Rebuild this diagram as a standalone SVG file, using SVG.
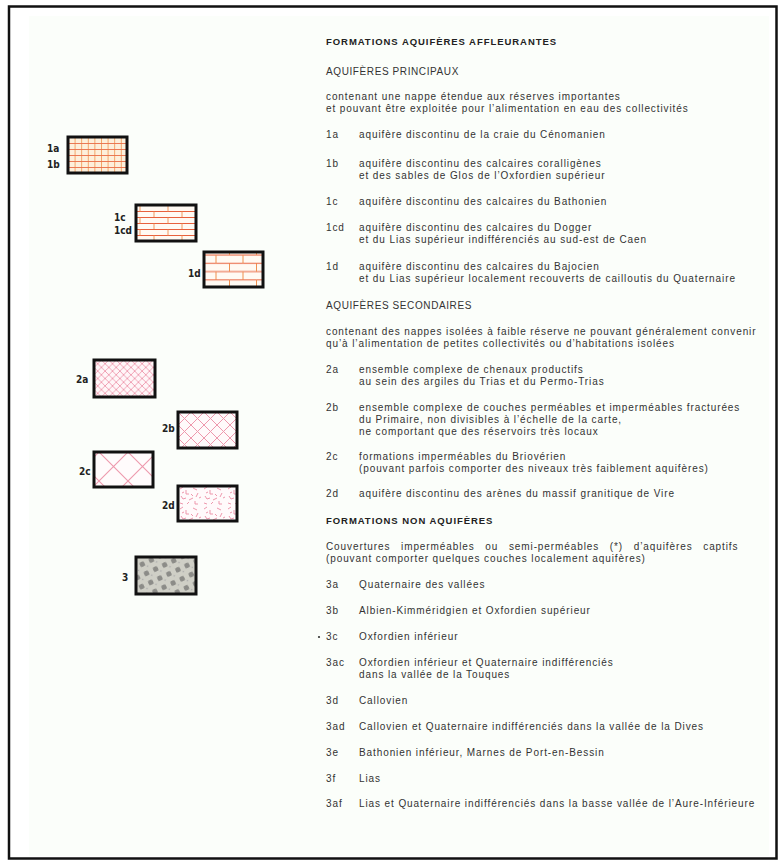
<svg xmlns="http://www.w3.org/2000/svg" width="784" height="866" viewBox="0 0 784 866">
<style>
.t{font-family:"Liberation Sans",Arial,sans-serif;font-size:10px;fill:#333;letter-spacing:0.9px}
.u{font-family:"Liberation Sans",Arial,sans-serif;font-size:10px;fill:#333;letter-spacing:0.6px}
.h{font-family:"Liberation Sans",Arial,sans-serif;font-size:9.5px;font-weight:bold;fill:#222;letter-spacing:0.95px}
.lb{font-family:"DejaVu Sans Condensed","DejaVu Sans",sans-serif;font-size:10px;font-weight:bold;fill:#222}
.box{stroke:#111;stroke-width:3}
</style>
<defs>
<pattern id="p1a" patternUnits="userSpaceOnUse" x="68" y="137" width="6.6" height="6">
<rect width="6.6" height="6" fill="#fdf0dc"/>
<line x1="0.5" y1="0" x2="0.5" y2="6" stroke="#f29a58" stroke-width="0.9"/>
<line x1="0" y1="0.5" x2="6.6" y2="0.5" stroke="#e9704c" stroke-width="0.9"/>
</pattern>
<pattern id="p1c" patternUnits="userSpaceOnUse" x="136" y="205" width="28" height="12">
<rect width="28" height="12" fill="#fffaf3"/>
<line x1="0" y1="0.5" x2="28" y2="0.5" stroke="#e8603c" stroke-width="1"/>
<line x1="0" y1="6.5" x2="28" y2="6.5" stroke="#e8603c" stroke-width="1"/>
<line x1="4" y1="0.5" x2="4" y2="6.5" stroke="#ef9050" stroke-width="0.9"/>
<line x1="18" y1="6.5" x2="18" y2="12.5" stroke="#ef9050" stroke-width="0.9"/>
</pattern>
<pattern id="p1d" patternUnits="userSpaceOnUse" x="204" y="252" width="27" height="16.6">
<rect width="27" height="16.6" fill="#fffaf3"/>
<line x1="0" y1="3" x2="27" y2="3" stroke="#e8603c" stroke-width="1"/>
<line x1="0" y1="11.3" x2="27" y2="11.3" stroke="#e8603c" stroke-width="1"/>
<line x1="12" y1="3" x2="12" y2="11.3" stroke="#ef9050" stroke-width="1"/>
<line x1="25.5" y1="11.3" x2="25.5" y2="19.6" stroke="#ef9050" stroke-width="1"/>
<line x1="25.5" y1="-5.3" x2="25.5" y2="3" stroke="#ef9050" stroke-width="1"/>
</pattern>
<pattern id="p2a" patternUnits="userSpaceOnUse" x="94" y="360" width="7.4" height="7.4">
<rect width="7.4" height="7.4" fill="#fff6f8"/>
<path d="M0,0L7.4,7.4M7.4,0L0,7.4" stroke="#ec8ea6" stroke-width="0.8"/>
</pattern>
<pattern id="p2b" patternUnits="userSpaceOnUse" x="178" y="412" width="13" height="13">
<rect width="13" height="13" fill="#fffafb"/>
<path d="M0,0L13,13M13,0L0,13" stroke="#ee98ad" stroke-width="1"/>
</pattern>
<pattern id="p2c" patternUnits="userSpaceOnUse" x="99" y="452" width="29" height="29">
<rect width="29" height="29" fill="#fffbfc"/>
<path d="M0,0L29,29M29,0L0,29" stroke="#ee98ad" stroke-width="1.1"/>
</pattern>
<pattern id="p2d" patternUnits="userSpaceOnUse" x="178" y="486" width="24" height="20">
<rect width="24" height="20" fill="#fffafb"/>
<g stroke="#ee98ad" stroke-width="1" fill="none">
<path d="M2,3l3,-2M8,4l0,4l3,0M15,2l4,2M20,7l-2,4M3,10l2,3l3,-1M11,14l4,-2M17,15l0,3l3,0M2,17l3,1M9,18l2,-2M21,12l2,-1M13,8l2,2M6,6l-2,1"/>
</g>
</pattern>
<pattern id="p3" patternUnits="userSpaceOnUse" x="136" y="557" width="10" height="10" patternTransform="rotate(-25)">
<rect width="10" height="10" fill="#cfcfc6"/>
<rect x="2" y="2" width="5" height="5" rx="1.5" fill="#8c8c88"/>
<circle cx="8.5" cy="8.5" r="0.8" fill="#aaa"/>
</pattern>
</defs>
<rect width="784" height="866" fill="#ffffff"/>
<rect x="29" y="16" width="740" height="840" fill="#fbfefa"/>
<rect x="9" y="6.5" width="767.5" height="852" fill="none" stroke="#111" stroke-width="2.5"/>

<g id="swatches">
<g id="sw-1a"><rect class="box" x="68" y="137" width="59" height="36" fill="url(#p1a)"/><text class="lb" x="47" y="152">1a</text><text class="lb" x="47" y="168">1b</text></g>
<g id="sw-1c"><rect class="box" x="136" y="205" width="60" height="36" fill="url(#p1c)"/><text class="lb" x="114" y="221">1c</text><text class="lb" x="114" y="234">1cd</text></g>
<g id="sw-1d"><rect class="box" x="204" y="252" width="59" height="35" fill="url(#p1d)"/><text class="lb" x="188" y="277">1d</text></g>
<g id="sw-2a"><rect class="box" x="94" y="360" width="61" height="37" fill="url(#p2a)"/><text class="lb" x="76" y="383">2a</text></g>
<g id="sw-2b"><rect class="box" x="178" y="412" width="59" height="36" fill="url(#p2b)"/><text class="lb" x="162" y="432">2b</text></g>
<g id="sw-2c"><rect class="box" x="94" y="452" width="59" height="35" fill="url(#p2c)"/><text class="lb" x="79" y="475">2c</text></g>
<g id="sw-2d"><rect class="box" x="178" y="486" width="59" height="35" fill="url(#p2d)"/><text class="lb" x="162" y="509">2d</text></g>
<g id="sw-3"><rect class="box" x="136" y="557" width="60" height="37" fill="url(#p3)"/><text class="lb" x="122" y="581">3</text></g>
</g>

<g id="legend">
<text class="h" x="326" y="45">FORMATIONS AQUIFÈRES AFFLEURANTES</text>
<text class="u" x="326" y="75">AQUIFÈRES PRINCIPAUX</text>
<text class="t" x="326" y="100">contenant une nappe étendue aux réserves importantes</text>
<text class="t" x="326" y="112">et pouvant être exploitée pour l’alimentation en eau des collectivités</text>
<g id="i1a"><text class="t" x="326" y="138">1a</text><text class="t" x="359" y="138">aquifère discontinu de la craie du Cénomanien</text></g>
<g id="i1b"><text class="t" x="326" y="167">1b</text><text class="t" x="359" y="167">aquifère discontinu des calcaires coralligènes</text><text class="t" x="359" y="179">et des sables de Glos de l’Oxfordien supérieur</text></g>
<g id="i1c"><text class="t" x="326" y="205">1c</text><text class="t" x="359" y="205">aquifère discontinu des calcaires du Bathonien</text></g>
<g id="i1cd"><text class="t" x="326" y="231">1cd</text><text class="t" x="359" y="231">aquifère discontinu des calcaires du Dogger</text><text class="t" x="359" y="243">et du Lias supérieur indifférenciés au sud-est de Caen</text></g>
<g id="i1d"><text class="t" x="326" y="270">1d</text><text class="t" x="359" y="270">aquifère discontinu des calcaires du Bajocien</text><text class="t" x="359" y="282">et du Lias supérieur localement recouverts de cailloutis du Quaternaire</text></g>
<text class="u" x="326" y="309">AQUIFÈRES SECONDAIRES</text>
<text class="t" x="326" y="335">contenant des nappes isolées à faible réserve ne pouvant généralement convenir</text>
<text class="t" x="326" y="347">qu’à l’alimentation de petites collectivités ou d’habitations isolées</text>
<g id="i2a"><text class="t" x="326" y="373">2a</text><text class="t" x="359" y="373">ensemble complexe de chenaux productifs</text><text class="t" x="359" y="385">au sein des argiles du Trias et du Permo-Trias</text></g>
<g id="i2b"><text class="t" x="326" y="411">2b</text><text class="t" x="359" y="411">ensemble complexe de couches perméables et imperméables fracturées</text><text class="t" x="359" y="423">du Primaire, non divisibles à l’échelle de la carte,</text><text class="t" x="359" y="435">ne comportant que des réservoirs très locaux</text></g>
<g id="i2c"><text class="t" x="326" y="460">2c</text><text class="t" x="359" y="460">formations imperméables du Briovérien</text><text class="t" x="359" y="472">(pouvant parfois comporter des niveaux très faiblement aquifères)</text></g>
<g id="i2d"><text class="t" x="326" y="497">2d</text><text class="t" x="359" y="497">aquifère discontinu des arènes du massif granitique de Vire</text></g>
<text class="h" x="326" y="524">FORMATIONS NON AQUIFÈRES</text>
<text class="t" x="326" y="550" word-spacing="7">Couvertures imperméables ou semi-perméables (*) d’aquifères captifs</text>
<text class="t" x="326" y="562">(pouvant comporter quelques couches localement aquifères)</text>
<g id="i3a"><text class="t" x="326" y="588">3a</text><text class="t" x="359" y="588">Quaternaire des vallées</text></g>
<g id="i3b"><text class="t" x="326" y="614">3b</text><text class="t" x="359" y="614">Albien-Kimméridgien et Oxfordien supérieur</text></g>
<g id="i3c"><circle cx="319" cy="637" r="1.1" fill="#333"/><text class="t" x="326" y="640">3c</text><text class="t" x="359" y="640">Oxfordien inférieur</text></g>
<g id="i3ac"><text class="t" x="326" y="666">3ac</text><text class="t" x="359" y="666">Oxfordien inférieur et Quaternaire indifférenciés</text><text class="t" x="359" y="678">dans la vallée de la Touques</text></g>
<g id="i3d"><text class="t" x="326" y="704">3d</text><text class="t" x="359" y="704">Callovien</text></g>
<g id="i3ad"><text class="t" x="326" y="730">3ad</text><text class="t" x="359" y="730">Callovien et Quaternaire indifférenciés dans la vallée de la Dives</text></g>
<g id="i3e"><text class="t" x="326" y="756">3e</text><text class="t" x="359" y="756">Bathonien inférieur, Marnes de Port-en-Bessin</text></g>
<g id="i3f"><text class="t" x="326" y="782">3f</text><text class="t" x="359" y="782">Lias</text></g>
<g id="i3af"><text class="t" x="326" y="807">3af</text><text class="t" x="359" y="807">Lias et Quaternaire indifférenciés dans la basse vallée de l’Aure-Inférieure</text></g>
</g>
</svg>
